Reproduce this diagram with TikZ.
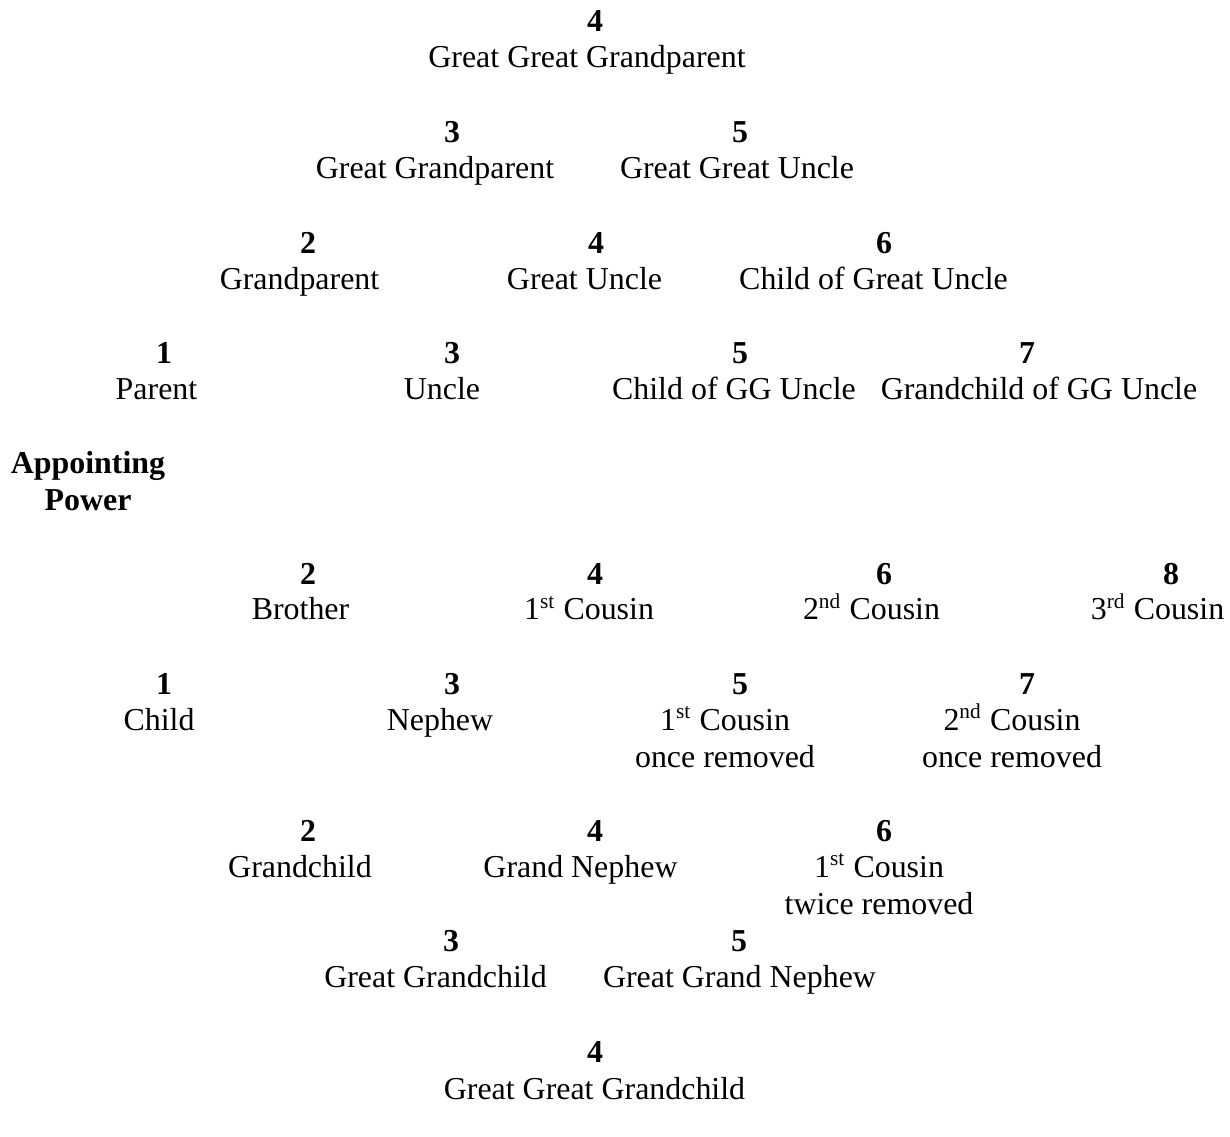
\documentclass[tikz,border=0pt]{standalone}
\usepackage{fontspec}
\setmainfont{Liberation Serif}
\usetikzlibrary{positioning}

\tikzset{
  degree/.style={anchor=base, inner sep=0pt, font=\fontsize{12}{13.9}\selectfont\bfseries},
  kin/.style={anchor=base, inner sep=0pt, align=center, font=\fontsize{12}{13.9}\selectfont},
}

\begin{document}
\begin{tikzpicture}[x=0.376pt,y=-0.376pt]
  \useasboundingbox (0,0) rectangle (1230,1137);

  % Ascendants
  \node[degree] (gggp-d) at (595,32) {4};
  \node[kin] (gggp) at (587,68) {Great Great Grandparent};

  \node[degree] (ggp-d) at (452,143) {3};
  \node[kin] (ggp) at (435,179) {Great Grandparent};
  \node[degree] (ggu-d) at (740,143) {5};
  \node[kin] (ggu) at (737,179) {Great Great Uncle};

  \node[degree] (gp-d) at (308,254) {2};
  \node[kin] (gp) at (299.5,290) {Grandparent};
  \node[degree] (gu-d) at (596,254) {4};
  \node[kin] (gu) at (584.5,290) {Great Uncle};
  \node[degree] (cgu-d) at (884,254) {6};
  \node[kin] (cgu) at (873.5,290) {Child of Great Uncle};

  \node[degree] (par-d) at (164,364) {1};
  \node[kin] (par) at (156.5,400) {Parent};
  \node[degree] (unc-d) at (452,364) {3};
  \node[kin] (unc) at (442,400) {Uncle};
  \node[degree] (cggu-d) at (740,364) {5};
  \node[kin] (cggu) at (734,400) {Child of GG Uncle};
  \node[degree] (gcggu-d) at (1027,364) {7};
  \node[kin] (gcggu) at (1039,400) {Grandchild of GG Uncle};

  % The person (base is the last line)
  \node[kin, font=\fontsize{12}{13.9}\selectfont\bfseries] (ap) at (88,510) {Appointing\\Power};

  % Same generation
  \node[degree] (bro-d) at (308,584) {2};
  \node[kin] (bro) at (300.5,620) {Brother};
  \node[degree] (c1-d) at (595,584) {4};
  \node[kin] (c1) at (589,620) {1\textsuperscript{st} Cousin};
  \node[degree] (c2-d) at (884,584) {6};
  \node[kin] (c2) at (871.5,620) {2\textsuperscript{nd} Cousin};
  \node[degree] (c3-d) at (1171,584) {8};
  \node[kin] (c3) at (1157.5,620) {3\textsuperscript{rd} Cousin};

  % Descendants
  \node[degree] (ch-d) at (164,694) {1};
  \node[kin] (ch) at (159,730) {Child};
  \node[degree] (nep-d) at (452,694) {3};
  \node[kin] (nep) at (440,730) {Nephew};
  \node[degree] (c1r1-d) at (740,694) {5};
  \node[kin] (c1r1) at (725,767) {1\textsuperscript{st} Cousin\\once removed};
  \node[degree] (c2r1-d) at (1027,694) {7};
  \node[kin] (c2r1) at (1012,767) {2\textsuperscript{nd} Cousin\\once removed};

  \node[degree] (gc-d) at (308,841) {2};
  \node[kin] (gc) at (300,877) {Grandchild};
  \node[degree] (gn-d) at (595,841) {4};
  \node[kin] (gn) at (580.5,877) {Grand Nephew};
  \node[degree] (c1r2-d) at (884,841) {6};
  \node[kin] (c1r2) at (879,914) {1\textsuperscript{st} Cousin\\twice removed};

  \node[degree] (ggc-d) at (451,951) {3};
  \node[kin] (ggc) at (435.5,987) {Great Grandchild};
  \node[degree] (ggn-d) at (739,951) {5};
  \node[kin] (ggn) at (739.5,987) {Great Grand Nephew};

  \node[degree] (gggc-d) at (595,1062) {4};
  \node[kin] (gggc) at (594.5,1099) {Great Great Grandchild};
\end{tikzpicture}
\end{document}
